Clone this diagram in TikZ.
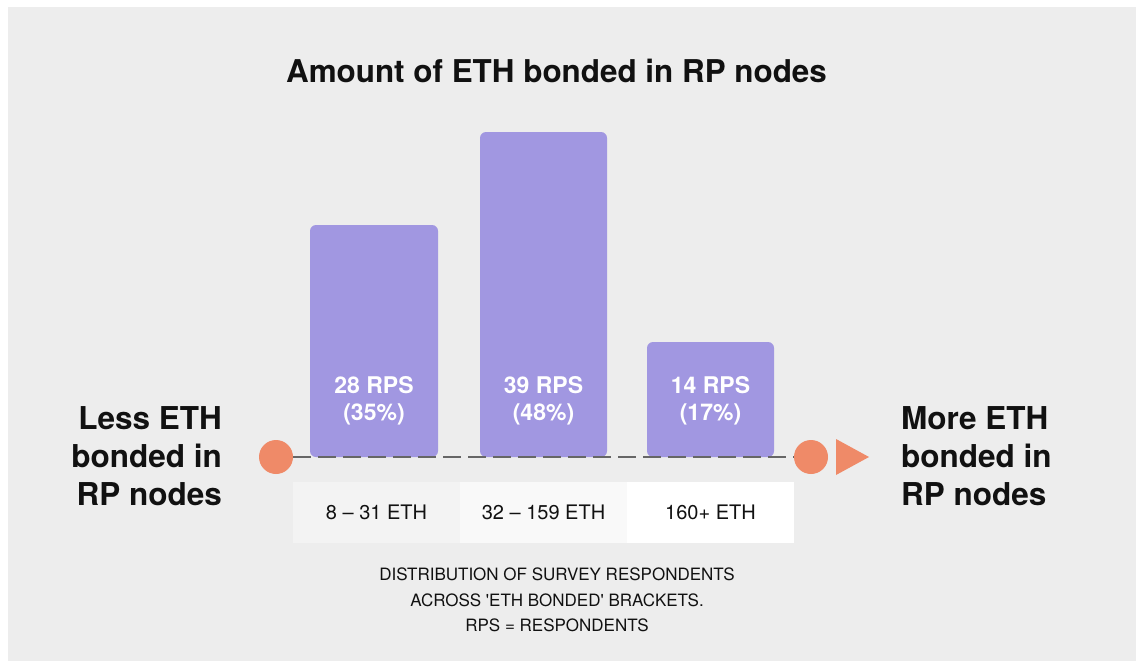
\documentclass[tikz,border=0pt]{standalone}
\usepackage{fontspec}
\setmainfont{TeX Gyre Heros}
\usetikzlibrary{shapes.geometric}
\definecolor{bg}{HTML}{EDEDED}
\definecolor{barc}{HTML}{A197E1}
\definecolor{orng}{HTML}{EF8A68}
\definecolor{boxa}{HTML}{F3F3F3}
\definecolor{boxb}{HTML}{F9F9F9}
\definecolor{ink}{HTML}{111111}
\definecolor{dashc}{HTML}{666666}
\tikzset{
  bar/.style={fill=barc, draw=none, rounded corners=6pt},
  barlbl/.style={text=white, inner sep=0pt, anchor=base, font=\fontsize{23}{27}\selectfont\bfseries},
  dot/.style={circle, fill=orng, draw=none, minimum size=34pt, inner sep=0pt},
  bracket/.style={draw=none, inner sep=0pt, minimum height=61pt, anchor=north west},
  brlbl/.style={text=ink, inner sep=0pt, anchor=base, font=\fontsize{20}{24}\selectfont},
  sidelbl/.style={text=ink, inner sep=0pt, font=\fontsize{31.5}{38}\selectfont\bfseries},
}
\begin{document}
\begin{tikzpicture}[x=1pt,y=-1pt]
\useasboundingbox (0,0) rectangle (1136,661);
\fill[white] (0,0) rectangle (1136,661);
\fill[bg] (8,7) rectangle (1136,661);
% title
\node[text=ink, inner sep=0pt, anchor=base, font=\fontsize{31.4}{38}\selectfont\bfseries] (title) at (556.5,82) {Amount of ETH bonded in RP nodes};
% bars
\draw[bar] (310,225) rectangle (438,457);
\draw[bar] (480,132) rectangle (607,457);
\draw[bar] (647,342) rectangle (774,457);
\node[barlbl] (b1a) at (374,393) {28 RPS};
\node[barlbl] (b1b) at (374,420) {(35\%)};
\node[barlbl] (b2a) at (543.5,393) {39 RPS};
\node[barlbl] (b2b) at (543.5,420) {(48\%)};
\node[barlbl] (b3a) at (710.5,393) {14 RPS};
\node[barlbl] (b3b) at (710.5,420) {(17\%)};
% axis
\node[dot] (ldot) at (276,457) {};
\node[dot] (rdot) at (811,457) {};
\draw[dashc, line width=2pt, dash pattern=on 18pt off 7pt] (ldot.east) -- (rdot.west);
\fill[orng] (836,439) -- (869,457) -- (836,475) -- cycle;
% brackets
\node[bracket, fill=boxa, minimum width=167pt] (br1) at (293,482) {};
\node[bracket, fill=boxb, minimum width=167pt] (br2) at (460,482) {};
\node[bracket, fill=white, minimum width=167pt] (br3) at (627,482) {};
\node[brlbl] (t1) at (376.5,519) {8 -- 31 ETH};
\node[brlbl] (t2) at (543.5,519) {32 -- 159 ETH};
\node[brlbl] (t3) at (710.5,519) {160+ ETH};
% caption
\node[text=ink, inner sep=0pt, align=center, anchor=north, font=\fontsize{17}{25.5}\selectfont] (cap) at (557,568) {DISTRIBUTION OF SURVEY RESPONDENTS\\ACROSS \textquotesingle ETH BONDED\textquotesingle\ BRACKETS.\\RPS = RESPONDENTS};
% side labels
\node[sidelbl, align=right, anchor=east] (less) at (222,456) {Less ETH\\bonded in\\RP nodes};
\node[sidelbl, align=left, anchor=west] (more) at (901,456) {More ETH\\bonded in\\RP nodes};
\end{tikzpicture}
\end{document}
